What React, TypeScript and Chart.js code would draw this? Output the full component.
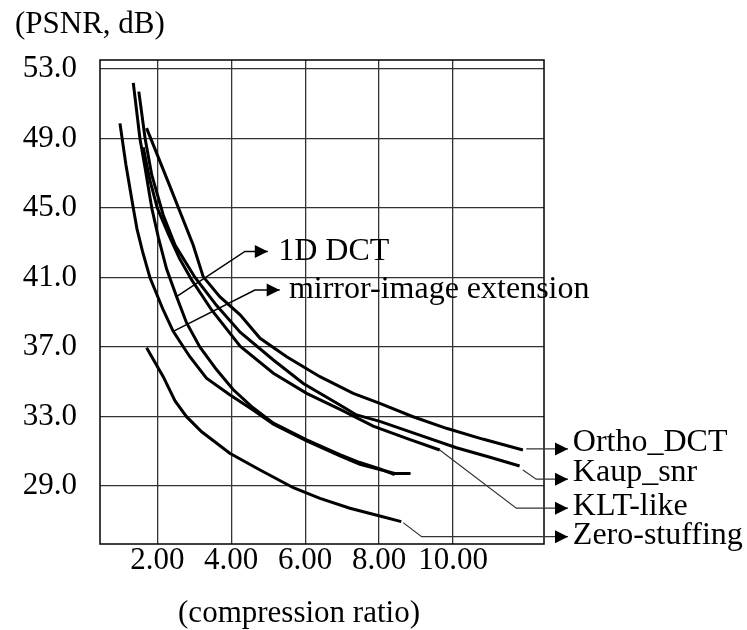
import React, { useEffect, useRef } from "react";
import { Chart, registerables } from "chart.js";

Chart.register(...registerables);

const FONT = "'Liberation Serif', 'Times New Roman', serif";
const FONT_SIZE = 31;
const LABEL_FONT_SIZE = 32;

// Axis ranges and ticks
const X_MIN = 0.45;
const X_MAX = 12.46;
const Y_MIN = 25.66;
const Y_MAX = 53.52;
const X_TICKS = [2, 4, 6, 8, 10];
const Y_TICKS = [29, 33, 37, 41, 45, 49, 53];

const Y_TITLE = "(PSNR, dB)";
const X_TITLE = "(compression ratio)";

// Series: mirror-image extension
const mirrorX = [0.99, 1.15, 1.35, 1.45, 1.6, 1.8, 2.16, 2.43, 2.88, 3.33, 3.96, 4.59, 5.14, 6.04, 6.94, 7.48, 8.02, 8.42, 8.85];
const mirrorY = [49.87, 47.5, 45.0, 43.8, 42.5, 41.0, 39.13, 37.9, 36.44, 35.2, 34.25, 33.37, 32.55, 31.6, 30.73, 30.25, 29.95, 29.72, 29.72];

// Series: 1D DCT
const dct1dX = [1.35, 1.53, 1.67, 1.85, 2.03, 2.25, 2.52, 2.79, 3.15, 3.6, 4.05, 4.59, 5.14, 6.04, 6.94, 7.48, 8.02, 8.42];
const dct1dY = [52.2, 49.0, 47.3, 45.0, 43.3, 41.5, 39.9, 38.4, 37.0, 35.7, 34.55, 33.5, 32.62, 31.65, 30.8, 30.35, 29.98, 29.65];

// Series: Ortho_DCT
const orthoX = [1.71, 2.35, 2.97, 3.24, 3.69, 4.24, 4.78, 5.5, 6.4, 7.3, 8.02, 8.9, 9.82, 10.8, 11.89];
const orthoY = [49.6, 46.2, 42.87, 41.05, 39.9, 38.85, 37.5, 36.44, 35.29, 34.33, 33.76, 33.0, 32.32, 31.7, 31.07];

// Series: Kaup_snr
const kaupX = [1.5, 1.67, 1.85, 2.16, 2.48, 3.02, 3.6, 4.24, 5.14, 5.95, 6.94, 7.39, 8.02, 9.0, 10.09, 11.0, 11.8];
const kaupY = [51.7, 49.0, 46.9, 44.6, 42.87, 41.0, 39.4, 37.85, 36.25, 34.9, 33.66, 33.09, 32.72, 32.0, 31.2, 30.65, 30.15];

// Series: KLT-like
const kltX = [1.62, 1.8, 2.0, 2.3, 2.6, 2.93, 3.47, 4.24, 5.14, 6.04, 7.0, 7.84, 8.8, 9.64];
const kltY = [48.5, 46.6, 45.0, 43.5, 42.1, 40.86, 39.13, 37.05, 35.49, 34.33, 33.35, 32.45, 31.7, 31.07];

// Series: Zero-stuffing
const zeroX = [1.71, 2.16, 2.48, 2.79, 3.2, 3.96, 4.78, 5.68, 6.4, 7.21, 8.02, 8.6];
const zeroY = [36.95, 35.29, 33.9, 32.99, 32.12, 30.88, 29.92, 28.9, 28.29, 27.72, 27.27, 26.95];

// Labels with leader lines (data coordinates)
const LABEL_NAMES = ["1D DCT", "mirror-image extension", "Ortho_DCT", "Kaup_snr", "KLT-like", "Zero-stuffing"];
const LEADER_X = [
  [2.52, 4.37, 4.99],
  [2.43, 4.64, 5.31],
  [11.98, 13.11],
  [11.89, 12.25, 13.11],
  [9.64, 11.71, 13.11],
  [8.65, 9.15, 13.11],
];
const LEADER_Y = [
  [39.9, 42.5, 42.5],
  [37.9, 40.28, 40.28],
  [31.13, 31.13],
  [29.92, 29.39, 29.39],
  [31.07, 27.72, 27.72],
  [26.89, 26.08, 26.08],
];
const LABEL_X = [5.27, 5.56, 13.24, 13.24, 13.24, 13.24];
const LABEL_Y = [42.5, 40.31, 31.5, 29.75, 27.79, 26.12];

const SERIES = [
  { name: "mirror-image extension", xs: mirrorX, ys: mirrorY },
  { name: "1D DCT", xs: dct1dX, ys: dct1dY },
  { name: "Ortho_DCT", xs: orthoX, ys: orthoY },
  { name: "Kaup_snr", xs: kaupX, ys: kaupY },
  { name: "KLT-like", xs: kltX, ys: kltY },
  { name: "Zero-stuffing", xs: zeroX, ys: zeroY },
];

const annotationPlugin = {
  id: "annotations",
  afterDatasetsDraw(chart: any) {
    const { ctx, chartArea, scales } = chart;
    const xs = scales.x;
    const ys = scales.y;
    ctx.save();
    // frame
    ctx.strokeStyle = "#000";
    ctx.lineWidth = 1.5;
    ctx.strokeRect(chartArea.left, chartArea.top, chartArea.right - chartArea.left, chartArea.bottom - chartArea.top);

    // leader lines and arrows
    LABEL_NAMES.forEach((name, i) => {
      const px = LEADER_X[i].map((v) => xs.getPixelForValue(v));
      const py = LEADER_Y[i].map((v) => ys.getPixelForValue(v));
      const left = i < 2;
      ctx.strokeStyle = left ? "#000" : "#333";
      ctx.lineWidth = left ? 1.5 : 1.2;
      ctx.beginPath();
      ctx.moveTo(px[0], py[0]);
      for (let k = 1; k < px.length; k++) ctx.lineTo(px[k], py[k]);
      ctx.stroke();
      const tx = px[px.length - 1];
      const ty = py[py.length - 1];
      ctx.fillStyle = "#000";
      ctx.beginPath();
      ctx.moveTo(tx, ty);
      ctx.lineTo(tx - 13, ty - 6.5);
      ctx.lineTo(tx - 13, ty + 6.5);
      ctx.closePath();
      ctx.fill();
      ctx.font = `${LABEL_FONT_SIZE}px ${FONT}`;
      ctx.textAlign = "left";
      ctx.textBaseline = "middle";
      ctx.fillText(name, xs.getPixelForValue(LABEL_X[i]), ys.getPixelForValue(LABEL_Y[i]));
    });

    // axis titles
    ctx.font = `${FONT_SIZE}px ${FONT}`;
    ctx.fillStyle = "#000";
    ctx.textBaseline = "middle";
    ctx.textAlign = "left";
    ctx.fillText(Y_TITLE, 15, chartArea.top - 35);
    ctx.textAlign = "center";
    ctx.fillText(X_TITLE, chartArea.left + 199, chartArea.bottom + 70);
    ctx.restore();
  },
};

export default function App() {
  const canvasRef = useRef<HTMLCanvasElement | null>(null);

  useEffect(() => {
    const canvas = canvasRef.current;
    if (!canvas) return;
    const chart = new Chart(canvas, {
      type: "line",
      data: {
        datasets: SERIES.map((s) => ({
          label: s.name,
          data: s.xs.map((x, i) => ({ x, y: s.ys[i] })),
          borderColor: "#000",
          backgroundColor: "#000",
          borderWidth: 3,
          pointRadius: 0,
          tension: 0,
          fill: false,
        })),
      },
      options: {
        responsive: false,
        animation: false,
        devicePixelRatio: 1,
        layout: { padding: { left: 0, top: 60, right: 203, bottom: 0 } },
        plugins: {
          legend: { display: false },
          tooltip: { enabled: false },
          title: { display: false },
        },
        scales: {
          x: {
            type: "linear",
            min: X_MIN,
            max: X_MAX,
            afterBuildTicks: (axis: any) => {
              axis.ticks = X_TICKS.map((v) => ({ value: v }));
            },
            afterFit: (axis: any) => {
              axis.height = 86;
            },
            grid: { color: "#333", lineWidth: 1.3, drawTicks: false },
            border: { display: false },
            ticks: {
              autoSkip: false,
              maxRotation: 0,
              padding: 1,
              color: "#000",
              font: { family: FONT, size: FONT_SIZE, lineHeight: 1 },
              callback: (v: any) => Number(v).toFixed(2),
            },
          },
          y: {
            type: "linear",
            min: Y_MIN,
            max: Y_MAX,
            afterBuildTicks: (axis: any) => {
              axis.ticks = Y_TICKS.map((v) => ({ value: v }));
            },
            afterFit: (axis: any) => {
              axis.width = 100;
            },
            grid: { color: "#333", lineWidth: 1.3, drawTicks: false },
            border: { display: false },
            ticks: {
              autoSkip: false,
              padding: 23,
              color: "#000",
              font: { family: FONT, size: FONT_SIZE, lineHeight: 1 },
              callback: (v: any) => Number(v).toFixed(1),
            },
          },
        },
      },
      plugins: [annotationPlugin],
    });
    return () => chart.destroy();
  }, []);

  return (
    <div style={{ position: "absolute", left: 0, top: 0, width: 747, height: 630, background: "#fff" }}>
      <canvas ref={canvasRef} width={747} height={630} style={{ width: 747, height: 630, display: "block" }} />
    </div>
  );
}
